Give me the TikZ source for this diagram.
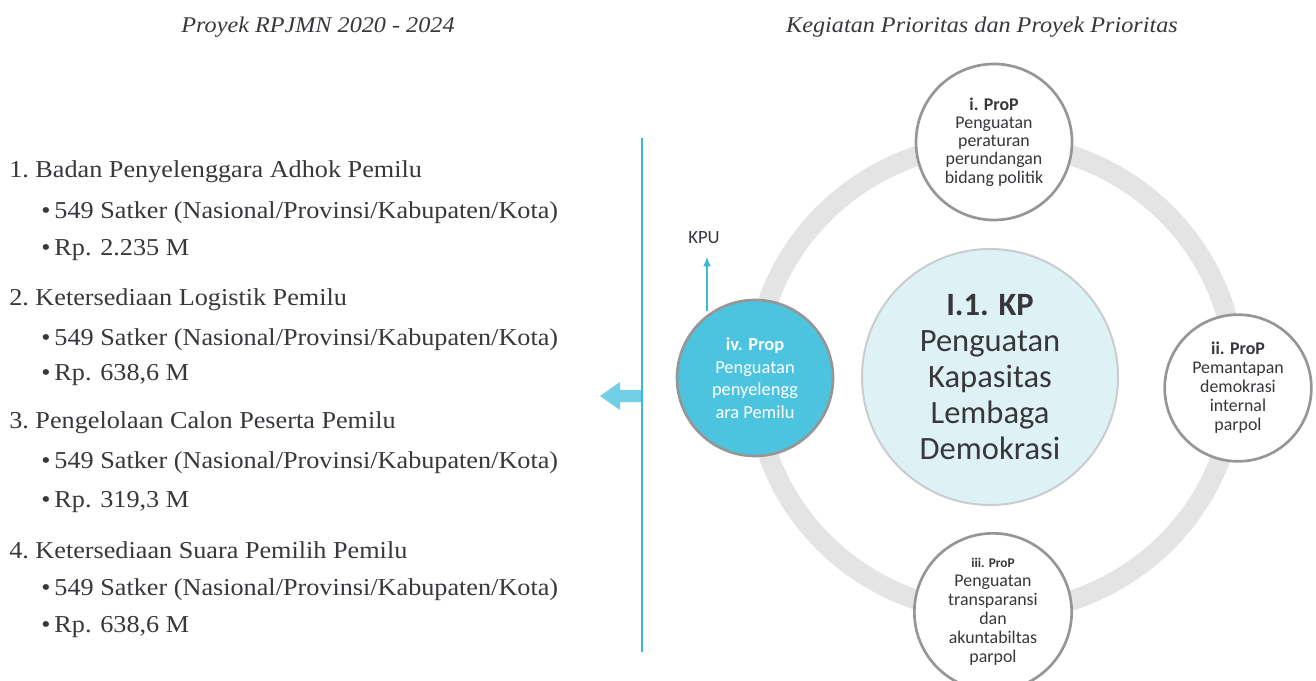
\documentclass[tikz,border=0pt]{standalone}
\usepackage{fontspec}
\setmainfont{Liberation Serif}
\newfontfamily\listfont[FakeStretch=1.08]{Liberation Serif}
\newfontfamily\circfont{Carlito}
\usepackage{tikz}
\usetikzlibrary{arrows.meta}

\definecolor{txtgray}{RGB}{55,55,60}
\definecolor{ringgray}{RGB}{228,228,228}
\definecolor{edgegray}{RGB}{150,150,150}
\definecolor{kpblue}{RGB}{77,196,223}
\definecolor{kpfill}{RGB}{222,242,246}
\definecolor{linecyan}{RGB}{60,185,215}

\tikzset{
  listitem/.style={anchor=west, inner sep=0.75pt, text=txtgray, font=\listfont\fontsize{18.2}{20}\selectfont},
  heading/.style={inner sep=0.75pt, text=txtgray, font=\listfont\itshape\fontsize{16.8}{19}\selectfont},
  prop/.style={circle, draw=edgegray, line width=2pt, fill=white, align=center, inner sep=0pt, text=txtgray, font=\circfont\fontsize{13.4}{13.6}\selectfont},
}

\begin{document}
\begin{tikzpicture}[x=0.75pt,y=0.75pt,yscale=-1,xscale=1]
        \useasboundingbox (0,0) rectangle (1316,681);

        % titles
        \draw (318,27) node [heading] (tl) {Proyek RPJMN 2020 - 2024};
        \draw (982,27) node [heading] (tr) {Kegiatan Prioritas dan Proyek Prioritas};

        % left list
        \draw (8,172) node [listitem] (a1) {1.\ Badan Penyelenggara Adhok Pemilu};
        \draw (40,213) node [listitem] (a1s) {\textbullet\,549 Satker (Nasional/Provinsi/Kabupaten/Kota)};
        \draw (40,250) node [listitem] (a1r) {\textbullet\,Rp. 2.235 M};
        \draw (8,300) node [listitem] (a2) {2.\ Ketersediaan Logistik Pemilu};
        \draw (40,340) node [listitem] (a2s) {\textbullet\,549 Satker (Nasional/Provinsi/Kabupaten/Kota)};
        \draw (40,375) node [listitem] (a2r) {\textbullet\,Rp. 638,6 M};
        \draw (8,423) node [listitem] (a3) {3.\ Pengelolaan Calon Peserta Pemilu};
        \draw (40,463) node [listitem] (a3s) {\textbullet\,549 Satker (Nasional/Provinsi/Kabupaten/Kota)};
        \draw (40,502) node [listitem] (a3r) {\textbullet\,Rp. 319,3 M};
        \draw (8,550) node [listitem] (a4) {4.\ Ketersediaan Suara Pemilih Pemilu};
        \draw (40,590) node [listitem] (a4s) {\textbullet\,549 Satker (Nasional/Provinsi/Kabupaten/Kota)};
        \draw (40,627) node [listitem] (a4r) {\textbullet\,Rp. 638,6 M};

        % divider and fat arrow
        \draw [linecyan, line width=1.2pt] (642,138) -- (642,652);
        \fill [kpblue!80] (600,396) -- (620,382) -- (620,390) -- (641,390) -- (641,402) -- (620,402) -- (620,410) -- cycle;

        % ring
        \draw [ringgray, line width=15pt] (995,378) ellipse (180pt and 176pt);

        % circles
        \draw (990,377) node [circle, draw={rgb,255:red,200;green,205;blue,208}, line width=1.5pt, fill=kpfill, minimum size=192pt, align=center, inner sep=0pt, text=txtgray, font=\circfont\fontsize{24.4}{27}\selectfont] (kp) {\textbf{I.1. KP}\\Penguatan\\Kapasitas\\Lembaga\\Demokrasi};
        \draw (994,142) node [prop, minimum size=117pt] (p1) {\textbf{i. ProP}\\Penguatan\\peraturan\\perundangan\\bidang politik};
        \draw (1238,388) node [prop, minimum size=110pt, font=\circfont\fontsize{13.4}{14.2}\selectfont] (p2) {\textbf{ii. ProP}\\Pemantapan\\demokrasi\\internal\\parpol};
        \draw (993,612) node [prop, minimum size=118pt, font=\circfont\fontsize{13.4}{14.2}\selectfont] (p3) {{\fontsize{10}{12}\selectfont\textbf{iii. ProP}}\\Penguatan\\transparansi\\dan\\akuntabiltas\\parpol};
        \draw (755,378) node [prop, fill=kpblue, minimum size=117pt, text=white, font=\circfont\fontsize{13.8}{17}\selectfont] (p4) {\textbf{iv. Prop}\\Penguatan\\penyelengg\\ara Pemilu};

        % KPU
        \draw (704,238) node [inner sep=0.75pt, text=txtgray, font=\circfont\fontsize{14}{16}\selectfont] (kpu) {KPU};
        \draw [linecyan, line width=1.2pt, -{Latex[length=7pt,width=6pt]}] (p4.north -| 707,0) ++(0,12) -- (707,257);
\end{tikzpicture}
\end{document}
